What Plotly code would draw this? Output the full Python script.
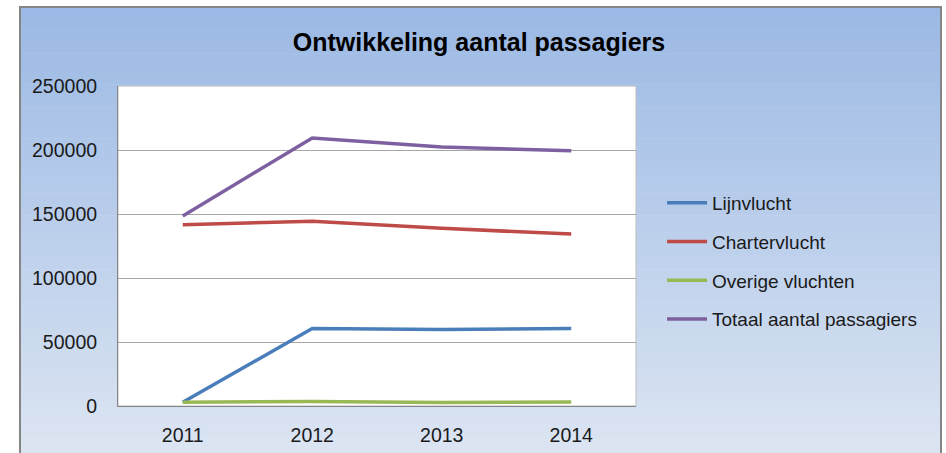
import plotly.graph_objects as go

years = ["2011", "2012", "2013", "2014"]
lijnvlucht = [3000, 60500, 59700, 60500]
chartervlucht = [141600, 144300, 138800, 134300]
overige = [3000, 3500, 2800, 3200]
totaal = [148500, 209400, 202300, 199400]
series_names = ["Lijnvlucht", "Chartervlucht", "Overige vluchten", "Totaal aantal passagiers"]
series_values = [lijnvlucht, chartervlucht, overige, totaal]
series_colors = ["#4A7EBB", "#BE4B48", "#98B954", "#7D60A0"]
y_ticks = [0, 50000, 100000, 150000, 200000, 250000]

W, H = 946, 453
PL, PR, PT, PB = 118, 636, 86, 406  # plot area pixels


def px_x(x):
    return (x - PL) / (PR - PL)


def px_y(y):
    return (PB - y) / (PB - PT)


fig = go.Figure()
for i, (name, vals, col) in enumerate(zip(series_names, series_values, series_colors)):
    fig.add_trace(go.Scatter(
        x=years, y=vals, name=name, mode="lines",
        line=dict(color=col, width=3.5),
        legendgroup=str(i),
    ))

shapes = []
# gradient background strips
top_c = (155, 185, 228)
bot_c = (222, 230, 243)
box_l, box_r, box_t, box_b = 20, 941, 7, 470
n = 60
for k in range(n):
    y0 = box_t + (box_b - box_t) * k / n
    y1 = box_t + (box_b - box_t) * (k + 1) / n + 0.5
    t = k / (n - 1)
    c = tuple(round(top_c[j] + (bot_c[j] - top_c[j]) * t) for j in range(3))
    shapes.append(dict(type="rect", xref="paper", yref="paper", layer="below",
                       x0=px_x(box_l), x1=px_x(box_r), y0=px_y(y1), y1=px_y(y0),
                       fillcolor="rgb(%d,%d,%d)" % c, line=dict(width=0)))
# box border
shapes.append(dict(type="rect", xref="paper", yref="paper", layer="below",
                   x0=px_x(box_l), x1=px_x(box_r), y0=px_y(box_b), y1=px_y(box_t),
                   fillcolor="rgba(0,0,0,0)", line=dict(color="#858585", width=2)))
# white plot area
shapes.append(dict(type="rect", xref="paper", yref="paper", layer="below",
                   x0=0, x1=1, y0=0, y1=1, fillcolor="white",
                   line=dict(color="#BDBDBD", width=1)))

fig.update_layout(
    width=W, height=H,
    margin=dict(l=PL, r=W - PR, t=PT, b=H - PB, pad=0, autoexpand=False),
    paper_bgcolor="white", plot_bgcolor="white",
    font=dict(family="Liberation Sans, Arial, sans-serif", size=19, color="#1a1a1a"),
    title=dict(text="<b>Ontwikkeling aantal passagiers</b>", x=479 / W, xanchor="center",
               y=1 - 42 / H, yanchor="middle",
               font=dict(family="Liberation Sans, Arial, sans-serif", size=25, color="black")),
    shapes=shapes,
    showlegend=True,
    legend=dict(x=px_x(662), xanchor="left", y=px_y(184), yanchor="top",
                bgcolor="rgba(0,0,0,0)", tracegroupgap=11, traceorder="grouped",
                font=dict(size=19, color="#1a1a1a"), itemwidth=40),
)
fig.update_xaxes(type="category", range=[-0.5, 3.5], showgrid=False, automargin=False,
                 showline=True, linecolor="#868686", linewidth=1,
                 ticks="outside", ticklen=12, tickcolor="rgba(0,0,0,0)",
                 tickfont=dict(size=19.5, color="#1a1a1a"))
fig.update_yaxes(range=[0, 250000], tickvals=y_ticks, ticktext=[str(v) for v in y_ticks],
                 showgrid=True, gridcolor="#A6A6A6", gridwidth=1, zeroline=False,
                 automargin=False,
                 showline=True, linecolor="#868686", linewidth=1,
                 ticks="outside", ticklen=16, tickcolor="rgba(0,0,0,0)",
                 tickfont=dict(size=19.5, color="#1a1a1a"))

post = ("document.body.style.margin='0';"
        "var gd=document.getElementById('{plot_id}');"
        "Plotly.relayout(gd,{width:%d,height:%d});" % (W, H))
fig.write_html("out.html", post_script=post,
               config={"responsive": False, "displayModeBar": False})
